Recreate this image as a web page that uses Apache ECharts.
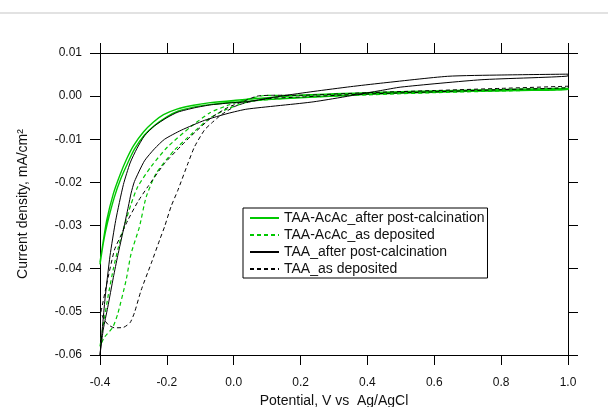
<!DOCTYPE html>
<html>
<head>
<meta charset="utf-8">
<title>CV curves</title>
<script src="https://cdn.jsdelivr.net/npm/echarts@6/dist/echarts.min.js"></script>
<style>
  html, body { margin: 0; padding: 0; background: #fff; }
  #chart { width: 608px; height: 407px; }
</style>
</head>
<body>
<div id="chart"></div>
<script>
// axis ticks
const xTicks = [-0.4, -0.2, 0.0, 0.2, 0.4, 0.6, 0.8, 1.0]
const yTicks = [0.01, 0.00, -0.01, -0.02, -0.03, -0.04, -0.05, -0.06]

const seriesNames = [
  'TAA-AcAc_after post-calcination',
  'TAA-AcAc_as deposited',
  'TAA_after post-calcination',
  'TAA_as deposited'
]

// TAA-AcAc after post-calcination (green solid), two sweeps almost on top of each other
const acacCalcFwd = [[-0.400, -0.0390], [-0.390, -0.0340], [-0.378, -0.0295], [-0.357, -0.0234], [-0.337, -0.0190],
  [-0.317, -0.0155], [-0.297, -0.0123], [-0.267, -0.0090], [-0.237, -0.0068], [-0.200, -0.0048], [-0.167, -0.0035],
  [-0.117, -0.0025], [-0.067, -0.0019], [0.000, -0.0014], [0.040, -0.0012], [0.100, -0.0008], [0.240, -0.0002],
  [0.400, 0.0004], [0.500, 0.0007], [0.700, 0.0011], [0.850, 0.0013], [1.000, 0.0015]]
const acacCalcRev = [[1.000, 0.0018], [0.800, 0.0015], [0.600, 0.0012], [0.400, 0.0008], [0.200, 0.0002],
  [0.000, -0.0010], [-0.070, -0.0015], [-0.120, -0.0021], [-0.170, -0.0030], [-0.210, -0.0043], [-0.240, -0.0060],
  [-0.270, -0.0083], [-0.300, -0.0115], [-0.320, -0.0145], [-0.340, -0.0182], [-0.360, -0.0226], [-0.380, -0.0288],
  [-0.394, -0.0355], [-0.400, -0.0385]]

// TAA-AcAc as deposited (green dashed)
const acacDepFwd = [[-0.400, -0.0580], [-0.390, -0.0530], [-0.375, -0.0460], [-0.360, -0.0400], [-0.345, -0.0350],
  [-0.327, -0.0300], [-0.307, -0.0250], [-0.287, -0.0210], [-0.247, -0.0163], [-0.197, -0.0117], [-0.127, -0.0070],
  [-0.070, -0.0038], [-0.020, -0.0022], [0.050, -0.0005], [0.100, 0.0002], [0.200, 0.0002], [0.400, 0.0006],
  [0.600, 0.0011], [0.800, 0.0015], [1.000, 0.0019]]
const acacDepRev = [[1.000, 0.0016], [0.800, 0.0012], [0.600, 0.0008], [0.400, 0.0003], [0.200, -0.0003],
  [0.050, -0.0012], [-0.020, -0.0030], [-0.070, -0.0050], [-0.122, -0.0085], [-0.177, -0.0125], [-0.232, -0.0179],
  [-0.262, -0.0234], [-0.282, -0.0303], [-0.307, -0.0365], [-0.322, -0.0427], [-0.347, -0.0505], [-0.362, -0.0536],
  [-0.387, -0.0559], [-0.400, -0.0580]]

// TAA after post-calcination (black solid)
const taaCalcFwd = [[-0.400, -0.0600], [-0.385, -0.0470], [-0.370, -0.0370], [-0.353, -0.0288], [-0.330, -0.0205],
  [-0.310, -0.0155], [-0.290, -0.0122], [-0.267, -0.0092], [-0.237, -0.0069], [-0.200, -0.0050], [-0.167, -0.0037],
  [-0.117, -0.0027], [-0.067, -0.0020], [0.000, -0.0015], [0.040, -0.0013], [0.140, 0.0000], [0.240, 0.0011],
  [0.350, 0.0022], [0.440, 0.0030], [0.640, 0.0046], [0.800, 0.0049], [1.000, 0.0051]]
const taaCalcRev = [[1.000, 0.0047], [0.740, 0.0038], [0.500, 0.0021], [0.440, 0.0013], [0.240, -0.0013],
  [0.040, -0.0030], [-0.017, -0.0040], [-0.087, -0.0056], [-0.157, -0.0079], [-0.207, -0.0100], [-0.237, -0.0122],
  [-0.267, -0.0150], [-0.297, -0.0198], [-0.307, -0.0225], [-0.315, -0.0255], [-0.330, -0.0310], [-0.347, -0.0370],
  [-0.360, -0.0420], [-0.377, -0.0490], [-0.390, -0.0540], [-0.400, -0.0600]]

// TAA as deposited (black dashed), with the hook at the bottom
const taaDepFwd = [[-0.397, -0.0500], [-0.382, -0.0443], [-0.357, -0.0357], [-0.337, -0.0322], [-0.317, -0.0288],
  [-0.287, -0.0245], [-0.257, -0.0210], [-0.207, -0.0156], [-0.157, -0.0115], [-0.127, -0.0092], [-0.067, -0.0050],
  [-0.017, -0.0026], [0.023, -0.0014], [0.070, 0.0000], [0.120, 0.0002], [0.200, 0.0002], [0.400, 0.0008],
  [0.600, 0.0013], [0.800, 0.0018], [1.000, 0.0023]]
const taaDepRev = [[1.000, 0.0020], [0.800, 0.0015], [0.600, 0.0010], [0.400, 0.0005], [0.200, -0.0002],
  [0.100, -0.0006], [0.033, -0.0016], [0.003, -0.0024], [-0.037, -0.0043], [-0.067, -0.0063], [-0.087, -0.0078],
  [-0.117, -0.0117], [-0.137, -0.0156], [-0.167, -0.0218], [-0.187, -0.0255], [-0.207, -0.0303], [-0.220, -0.0330],
  [-0.247, -0.0388], [-0.277, -0.0450], [-0.297, -0.0502], [-0.310, -0.0525], [-0.330, -0.0536], [-0.357, -0.0537],
  [-0.375, -0.0530], [-0.390, -0.0515], [-0.397, -0.0500]]

const GREEN = '#00c800'
const BLACK = '#000000'
const DASH = [4, 3]

const chart = echarts.init(document.getElementById('chart'), null, { renderer: 'canvas' })

// one series per loop
function loop(name, fwd, rev, color, dashed, width) {
  return {
    name: name,
    type: 'line',
    data: fwd.concat(rev),
    symbol: 'none',
    smooth: 0.2,
    animation: false,
    lineStyle: { color: color, width: width, type: dashed ? DASH : 'solid' },
    itemStyle: { color: color },
    emphasis: { disabled: true }
  }
}

const FONT = 'Liberation Sans, Arial, sans-serif'
const tickFont = { fontFamily: FONT, fontSize: 12, color: '#111' }
const titleFont = { fontFamily: FONT, fontSize: 14, color: '#111' }
const lineBlack = { show: true, onZero: false, lineStyle: { color: '#000', width: 1 } }
const tickOut = { show: true, length: 10, lineStyle: { color: '#000', width: 1 } }

const option = {
  backgroundColor: '#fff',
  animation: false,
  grid: { left: 100, right: 40, top: 53, bottom: 52, outerBoundsMode: 'none', containLabel: false },
  graphic: [
    { type: 'rect', left: 0, top: 12, shape: { width: 608, height: 2 }, style: { fill: '#e2e2e2' }, silent: true }
  ],
  legend: {
    orient: 'vertical',
    left: 243,
    top: 208,
    data: seriesNames,
    itemWidth: 29,
    itemHeight: 12,
    itemGap: 1,
    padding: [2, 3, 1, 6],
    borderColor: '#000',
    borderWidth: 1,
    borderRadius: 0,
    backgroundColor: '#fff',
    selectedMode: false,
    itemStyle: { opacity: 0 },
    textStyle: Object.assign({ lineHeight: 16 }, titleFont)
  },
  xAxis: [
    {
      type: 'value', position: 'bottom', min: xTicks[0], max: xTicks[xTicks.length - 1], interval: 0.2,
      axisLine: lineBlack, axisTick: tickOut, splitLine: { show: false },
      axisLabel: Object.assign({ margin: 22, formatter: v => v.toFixed(1) }, tickFont),
      name: 'Potential, V vs  Ag/AgCl', nameLocation: 'middle', nameGap: 36,
      nameTextStyle: titleFont
    },
    {
      type: 'value', position: 'top', min: xTicks[0], max: xTicks[xTicks.length - 1], interval: 0.2,
      axisLine: lineBlack, axisTick: tickOut, splitLine: { show: false }, axisLabel: { show: false }
    }
  ],
  yAxis: [
    {
      type: 'value', position: 'left', min: yTicks[yTicks.length - 1], max: yTicks[0], interval: 0.01,
      axisLine: lineBlack, axisTick: tickOut, splitLine: { show: false },
      axisLabel: Object.assign({ margin: 18, formatter: v => (Math.abs(v) < 1e-9 ? '0.00' : v.toFixed(2)) }, tickFont),
      name: 'Current density, mA/cm²', nameLocation: 'middle', nameGap: 70,
      nameTextStyle: titleFont
    },
    {
      type: 'value', position: 'right', min: yTicks[yTicks.length - 1], max: yTicks[0], interval: 0.01,
      axisLine: lineBlack, axisTick: tickOut, splitLine: { show: false }, axisLabel: { show: false }
    }
  ],
  series: [
    loop(seriesNames[0], acacCalcFwd, acacCalcRev, GREEN, false, 1.4),
    loop(seriesNames[1], acacDepFwd, acacDepRev, GREEN, true, 1.2),
    loop(seriesNames[2], taaCalcFwd, taaCalcRev, BLACK, false, 1),
    loop(seriesNames[3], taaDepFwd, taaDepRev, BLACK, true, 1)
  ]
}

chart.setOption(option)
</script>
</body>
</html>
